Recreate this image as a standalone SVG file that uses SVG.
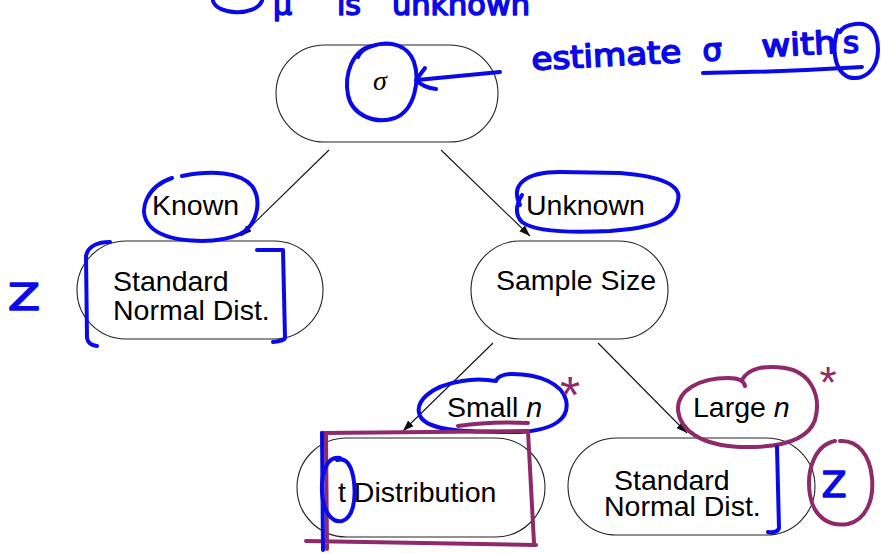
<svg xmlns="http://www.w3.org/2000/svg" width="881" height="554" viewBox="0 0 881 554">
<style>
.node{fill:#fff;stroke:#222;stroke-width:1.1}
.lbl{font-family:"Liberation Sans",Arial,sans-serif;font-size:28.5px;fill:#000}
.conn{stroke:#111;stroke-width:1.1;fill:none;marker-end:url(#ah)}
.blue{fill:none;stroke:#0a0ae8;stroke-width:4;stroke-linecap:round;stroke-linejoin:round}
.purp{fill:none;stroke:#8e2a69;stroke-width:4;stroke-linecap:round;stroke-linejoin:round}
.hb{font-family:"DejaVu Sans","Liberation Sans",sans-serif;fill:#0a0ae8;stroke:#0a0ae8;stroke-width:1.6;stroke-linejoin:round}
.hp{font-family:"Liberation Sans",sans-serif;fill:#8e2a69}
</style>
<defs>
<marker id="ah" markerUnits="userSpaceOnUse" markerWidth="12" markerHeight="10" refX="11" refY="4" orient="auto">
<path d="M0,0 L11,4 L0,8 Z" fill="#111"/>
</marker>
</defs>
<rect width="881" height="554" fill="#fff"/>

<g id="connectors">
<line class="conn" x1="329" y1="150" x2="241" y2="236"/>
<line class="conn" x1="441" y1="150" x2="530" y2="236"/>
<line class="conn" x1="493" y1="343" x2="403" y2="431"/>
<line class="conn" x1="598" y1="343" x2="687" y2="433"/>
</g>

<g id="node-sigma">
<rect class="node" x="276" y="45" width="222" height="97" rx="48.5"/>
<text x="373" y="90" font-family="'Liberation Serif',serif" font-style="italic" font-size="28">σ</text>
</g>
<g id="node-known">
<rect class="node" x="77" y="241" width="246" height="98" rx="49"/>
<text class="lbl" x="113" y="291">Standard</text>
<text class="lbl" x="113" y="320">Normal Dist.</text>
</g>
<g id="node-samplesize">
<rect class="node" x="471" y="241" width="197" height="98" rx="49"/>
<text class="lbl" x="496" y="290">Sample Size</text>
</g>
<g id="node-t">
<rect class="node" x="297" y="438" width="248" height="99" rx="49.5"/>
<text class="lbl" x="338" y="502">t Distribution</text>
</g>
<g id="node-large">
<rect class="node" x="568" y="438" width="247" height="97" rx="48.5"/>
<text class="lbl" x="614" y="490">Standard</text>
<text class="lbl" x="604" y="516">Normal Dist.</text>
</g>
<g id="edge-labels">
<text class="lbl" x="152" y="215">Known</text>
<text class="lbl" x="526" y="215">Unknown</text>
<text class="lbl" x="447" y="417">Small <tspan font-style="italic">n</tspan></text>
<text class="lbl" x="693" y="417">Large <tspan font-style="italic">n</tspan></text>
</g>

<g id="annotations">
<path class="blue" d="M213,1 C217,15 255,17 262,1"/>
<text class="hb" font-size="30" y="15"><tspan x="273">μ</tspan><tspan x="337">is</tspan><tspan x="392" textLength="138" lengthAdjust="spacingAndGlyphs">unknown</tspan></text>
<path class="blue" d="M372,46 C352,50 344,75 348,95 C352,115 375,125 395,118 C415,110 420,80 414,62 C408,45 390,40 372,46 C365,48 360,52 358,57"/>
<path class="blue" d="M500,72 L417,80 M425,68 Q419,76 416,80 Q424,88 436,89"/>
<g transform="rotate(-3 532 70)">
<text class="hb" font-size="31" x="532" y="70" textLength="150" lengthAdjust="spacingAndGlyphs">estimate</text>
</g>
<text class="hb" font-size="31" x="703" y="61" transform="rotate(-3 703 61)">σ</text>
<text class="hb" font-size="31" x="762" y="57" textLength="75" lengthAdjust="spacingAndGlyphs" transform="rotate(-3 762 57)">with</text>
<text class="hb" font-size="31" x="843" y="53">s</text>
<path class="blue" d="M703,73 Q780,72 862,67"/>
<path class="blue" d="M838,30 C832,45 833,70 848,77 C865,82 878,68 878,50 C878,30 868,22 855,24 C847,25 842,28 840,32"/>

<path class="blue" d="M172,178 C148,186 136,210 150,226 C165,243 215,245 240,234 C258,225 262,200 252,186 C240,172 212,170 182,176"/>
<path class="blue" d="M110,242 C98,242 88,246 86,256 L87,338 Q88,345 97,346"/>
<path class="blue" d="M257,250 L283,250 L285,338 Q284,341 273,342"/>
<text class="hb" font-size="38" x="8" y="310" textLength="32" lengthAdjust="spacingAndGlyphs">Z</text>

<path class="blue" d="M520,205 C510,185 525,172 560,172 L620,173 C660,176 682,185 678,200 C675,222 650,228 610,231 C570,233 535,232 522,222 C515,215 516,205 522,195"/>

<path class="blue" d="M462,381 C430,386 414,402 420,416 C428,432 470,432 520,432 C555,430 570,418 566,400 C562,384 540,374 512,374 C503,374 497,377 496,381 C485,379 472,379 462,381"/>
<path class="purp" d="M458,426 Q490,421 528,423"/>
<text class="hp" font-size="52" x="570" y="413" text-anchor="middle">*</text>

<path class="purp" d="M322,433 L528,431 L534,543 M306,541 L536,545 M326,435 L327,549"/>
<path class="blue" d="M322,433 L323,550"/>
<path class="blue" d="M340,458 C328,456 321,470 322,492 C323,512 332,523 342,521 C353,518 356,500 354,482 C352,465 346,457 337,460"/>

<path class="purp" d="M742,380 C748,368 765,365 785,368 C810,372 822,395 815,420 C808,440 780,448 740,447 C700,445 680,430 678,410 C677,390 700,378 728,378 C738,378 744,381 745,386"/>
<text class="hp" font-size="44" x="828" y="398" text-anchor="middle">*</text>
<path class="blue" d="M777,447 L779,528 Q778,533 768,532"/>
<path class="purp" d="M835,441 C815,445 806,470 810,495 C814,518 830,527 848,524 C866,520 874,500 872,478 C870,455 858,440 840,441"/>
<text class="hb" font-size="36" x="834" y="497" text-anchor="middle">Z</text>
</g>
</svg>
